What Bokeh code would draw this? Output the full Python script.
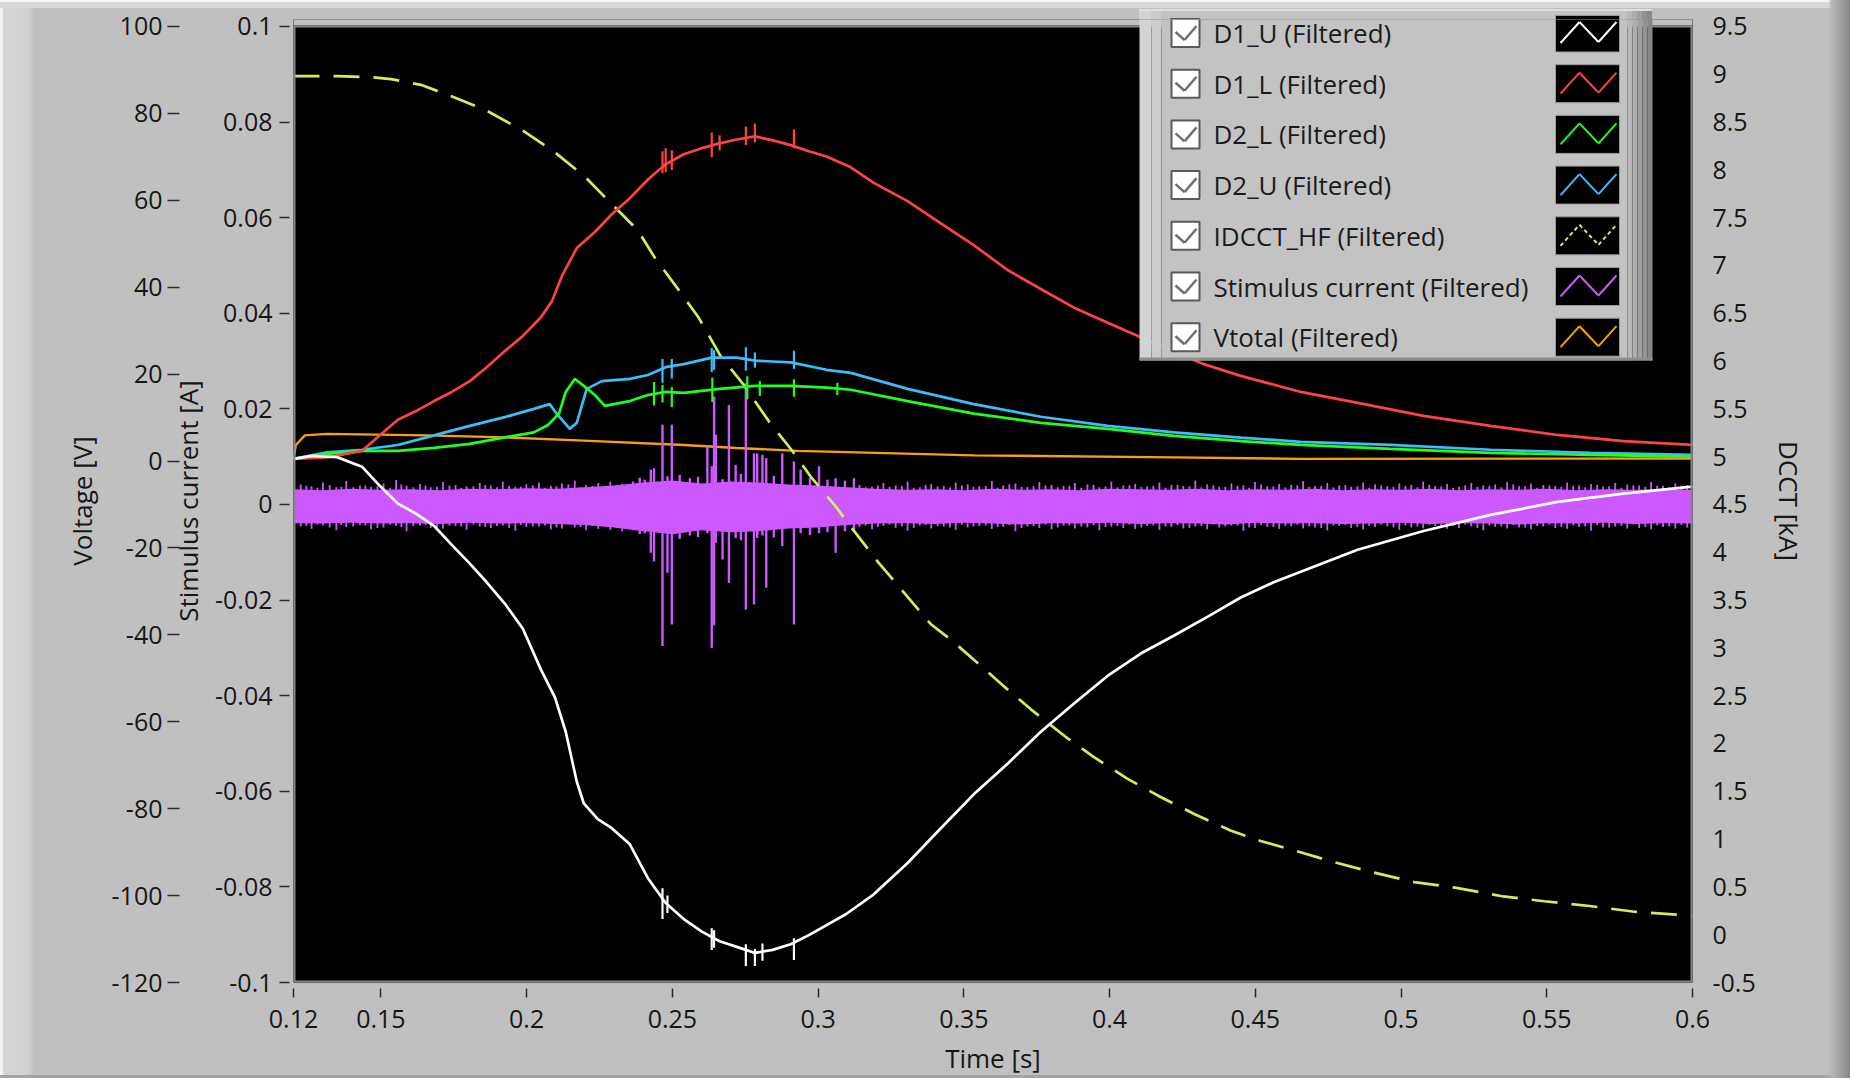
from bokeh.plotting import figure
from bokeh.models import Range1d, LinearAxis, FixedTicker, BoxAnnotation, Label, Arrow
from bokeh.embed import file_html
from bokeh.resources import INLINE

# ---------------- axes: ticks and labels ----------------
time_ticks = [0.12, 0.15, 0.2, 0.25, 0.3, 0.35, 0.4, 0.45, 0.5, 0.55, 0.6]
time_labels = ["0.12", "0.15", "0.2", "0.25", "0.3", "0.35", "0.4", "0.45", "0.5", "0.55", "0.6"]
volt_ticks = [100, 80, 60, 40, 20, 0, -20, -40, -60, -80, -100, -120]
volt_labels = ["100", "80", "60", "40", "20", "0", "-20", "-40", "-60", "-80", "-100", "-120"]
curr_ticks = [0.1, 0.08, 0.06, 0.04, 0.02, 0.0, -0.02, -0.04, -0.06, -0.08, -0.1]
curr_labels = ["0.1", "0.08", "0.06", "0.04", "0.02", "0", "-0.02", "-0.04", "-0.06", "-0.08", "-0.1"]
dcct_ticks = [9.5, 9.0, 8.5, 8.0, 7.5, 7.0, 6.5, 6.0, 5.5, 5.0, 4.5, 4.0, 3.5, 3.0, 2.5, 2.0,
              1.5, 1.0, 0.5, 0.0, -0.5]
dcct_labels = ["9.5", "9", "8.5", "8", "7.5", "7", "6.5", "6", "5.5", "5", "4.5", "4", "3.5", "3",
               "2.5", "2", "1.5", "1", "0.5", "0", "-0.5"]
# scale ends (value at the top and bottom tick)
volt_lo, volt_hi = -120, 100
curr_lo, curr_hi = -0.1, 0.1
dcct_lo, dcct_hi = -0.5, 9.5
time_lo, time_hi = 0.12, 0.6

# ---------------- D1_U (Filtered), voltage [V] ----------------
d1u_t = [0.120, 0.1263, 0.1349, 0.1435, 0.1496, 0.1558, 0.162, 0.1682, 0.1743, 0.1805, 0.1863,
         0.1925, 0.1987, 0.2049, 0.2097, 0.2134, 0.2172, 0.2196, 0.2244, 0.2292, 0.2354, 0.2416,
         0.2477, 0.2539, 0.2601, 0.2662, 0.2721, 0.2783, 0.2844, 0.2906, 0.2968, 0.3029, 0.3095,
         0.3191, 0.3307, 0.3421, 0.3534, 0.3651, 0.3764, 0.3878, 0.3994, 0.4107, 0.422, 0.4337,
         0.445, 0.4563, 0.4656, 0.4851, 0.5077, 0.5307, 0.5537, 0.5763, 0.6]
d1u_v = [0.5, 1.2, 0.9, -1.3, -5.7, -9.8, -12.1, -14.9, -19.3, -23.6, -27.9, -32.8, -38.6, -48.0,
         -54.4, -62.3, -73.8, -78.8, -82.4, -84.5, -88.2, -96.0, -101.7, -105.4, -108.3, -110.5,
         -111.8, -113.2, -112.5, -111.2, -109.1, -106.8, -104.3, -99.7, -92.5, -84.5, -76.7,
         -69.6, -62.3, -55.8, -49.4, -44.3, -40.2, -35.8, -31.4, -27.9, -25.5, -20.4, -16.1,
         -12.4, -9.4, -7.5, -5.9]
d1u_glitch_t = [0.2466, 0.2483, 0.2635, 0.2643, 0.2752, 0.2783, 0.2809, 0.2917]
d1u_glitch_lo = [-105.4, -104.0, -112.5, -112.0, -116.2, -116.2, -115.0, -114.8]
d1u_glitch_hi = [-98.3, -100.0, -107.5, -108.0, -111.2, -112.3, -111.0, -109.8]

# ---------------- D1_L (Filtered), voltage [V] ----------------
d1l_t = [0.12, 0.1315, 0.1435, 0.1558, 0.162, 0.1682, 0.1743, 0.1805, 0.1863, 0.1925, 0.1987,
         0.2049, 0.2087, 0.2121, 0.2172, 0.2234, 0.2292, 0.2354, 0.2416, 0.2477, 0.2539, 0.2601,
         0.2662, 0.2721, 0.2783, 0.2844, 0.2906, 0.2968, 0.3029, 0.3112, 0.3191, 0.3307, 0.3421,
         0.3534, 0.3651, 0.3764, 0.3878, 0.3994, 0.4097, 0.4323, 0.445, 0.4656, 0.4851, 0.5077,
         0.5307, 0.5537, 0.5763, 0.6]
d1l_v = [0.5, 0.85, 2.35, 9.5, 11.5, 13.8, 15.9, 18.4, 21.6, 25.3, 28.8, 33.1, 36.8, 42.6, 49.0,
         52.7, 56.8, 60.5, 64.8, 68.3, 70.6, 72.0, 73.1, 74.0, 74.7, 73.8, 72.7, 71.3, 70.1, 67.6,
         64.0, 59.8, 54.7, 49.7, 43.9, 39.6, 35.3, 31.8, 28.8, 22.3, 19.6, 15.9, 13.4, 10.4, 8.1,
         6.0, 4.6, 3.7]
d1l_glitch_t = [0.2466, 0.2477, 0.2498, 0.2635, 0.2662, 0.2752, 0.2783, 0.2917]
d1l_glitch_lo = [66.2, 66.5, 67.0, 69.9, 71.5, 72.7, 73.3, 72.0]
d1l_glitch_hi = [71.3, 72.0, 71.5, 75.6, 75.0, 77.0, 77.7, 76.3]

# ---------------- D2_L (Filtered), voltage [V] ----------------
d2l_t = [0.12, 0.1315, 0.1435, 0.1558, 0.1682, 0.1805, 0.1925, 0.2025, 0.2073, 0.2111, 0.2134,
         0.2165, 0.2196, 0.2234, 0.2268, 0.2354, 0.2416, 0.2477, 0.2539, 0.2662, 0.2783, 0.2906,
         0.3029, 0.3112, 0.3307, 0.3534, 0.3764, 0.3994, 0.422, 0.445, 0.4656, 0.4964, 0.5307,
         0.565, 0.6]
d2l_v = [0.5, 1.66, 2.35, 2.35, 3.04, 3.96, 5.45, 6.6, 8.3, 10.9, 15.9, 18.9, 17.3, 15.2, 12.7,
         13.8, 15.2, 15.9, 15.7, 16.6, 17.3, 17.3, 16.9, 16.4, 13.8, 10.9, 8.8, 7.4, 5.8, 4.6, 3.7,
         2.8, 1.9, 1.4, 1.0]
d2l_glitch_t = [0.2437, 0.2466, 0.2498, 0.2637, 0.2757, 0.2800, 0.2917, 0.3066]
d2l_glitch_lo = [12.8, 13.5, 12.4, 13.6, 14.2, 15.0, 14.8, 15.2]
d2l_glitch_hi = [18.2, 17.5, 17.0, 19.2, 19.5, 18.4, 18.8, 18.0]

# ---------------- D2_U (Filtered), voltage [V] ----------------
d2u_t = [0.12, 0.1315, 0.1435, 0.1558, 0.1682, 0.1805, 0.1925, 0.2025, 0.2079, 0.2103, 0.2148,
         0.2172, 0.2206, 0.2258, 0.2354, 0.2416, 0.2477, 0.2539, 0.2635, 0.2721, 0.2783, 0.2906,
         0.3029, 0.3112, 0.3307, 0.3534, 0.3764, 0.3994, 0.422, 0.445, 0.4656, 0.4964, 0.5307,
         0.565, 0.6]
d2u_v = [0.5, 2.0, 2.6, 3.7, 5.9, 8.1, 10.1, 12.0, 13.1, 10.9, 7.4, 8.8, 16.6, 18.4, 18.9, 19.8,
         21.6, 22.3, 23.8, 23.8, 23.1, 22.7, 21.0, 20.3, 16.6, 13.1, 10.2, 8.1, 6.6, 5.4, 4.4, 3.7,
         2.6, 1.9, 1.4]
d2u_glitch_t = [0.2466, 0.2498, 0.2635, 0.2643, 0.2752, 0.2783, 0.2917]
d2u_glitch_lo = [18.0, 19.0, 20.5, 21.0, 20.8, 21.5, 21.2]
d2u_glitch_hi = [23.5, 23.5, 26.0, 25.5, 26.2, 25.0, 25.4]

# ---------------- IDCCT_HF (Filtered), DCCT [kA] ----------------
idcct_t = [0.12, 0.135, 0.147, 0.1534, 0.1637, 0.1733, 0.1863, 0.1987, 0.209, 0.2196, 0.2296,
           0.2381, 0.244, 0.2525, 0.2591, 0.2666, 0.2745, 0.2831, 0.2909, 0.2975, 0.306, 0.3119,
           0.3205, 0.3283, 0.3386, 0.3458, 0.3544, 0.3637, 0.3729, 0.3849, 0.3945, 0.4062,
           0.4175, 0.4292, 0.4415, 0.4518, 0.4635, 0.4769, 0.4906, 0.5046, 0.519, 0.5351, 0.5492,
           0.5647, 0.5801, 0.5945, 0.6]
idcct_ka = [8.98, 8.98, 8.97, 8.95, 8.89, 8.78, 8.62, 8.41, 8.2, 7.94, 7.63, 7.37, 7.08, 6.73,
            6.45, 6.05, 5.75, 5.37, 5.07, 4.79, 4.48, 4.24, 3.9, 3.62, 3.25, 3.08, 2.85, 2.6,
            2.36, 2.07, 1.86, 1.63, 1.44, 1.26, 1.09, 0.98, 0.88, 0.76, 0.65, 0.55, 0.49, 0.4,
            0.35, 0.3, 0.24, 0.21, 0.2]

# ---------------- Vtotal (Filtered), voltage [V] ----------------
vtot_t = [0.12, 0.1208, 0.1239, 0.1315, 0.1658, 0.1925, 0.2196, 0.2539, 0.2721, 0.293, 0.3534,
          0.422, 0.4656, 0.6]
vtot_v = [0.5, 3.7, 5.9, 6.25, 5.9, 5.45, 4.7, 3.7, 3.0, 2.35, 1.3, 0.85, 0.5, 0.6]

# ---------------- Stimulus current (Filtered) [mA] ----------------
# noise band envelope, every 10 ms
stim_t = [0.12, 0.13, 0.14, 0.15, 0.16, 0.17, 0.18, 0.19, 0.2, 0.21, 0.22, 0.23, 0.24, 0.25,
          0.26, 0.27, 0.28, 0.29, 0.3, 0.31, 0.32, 0.33, 0.34, 0.35, 0.36, 0.37, 0.38, 0.39, 0.4,
          0.41, 0.42, 0.43, 0.44, 0.45, 0.46, 0.47, 0.48, 0.49, 0.5, 0.51, 0.52, 0.53, 0.54, 0.55,
          0.56, 0.57, 0.58, 0.59, 0.6]
stim_upper_ma = [3.2, 3.0, 3.3, 3.1, 3.2, 3.0, 3.3, 3.2, 3.4, 3.3, 3.6, 4.0, 4.6, 5.0, 4.4, 4.8,
                 4.6, 4.2, 4.0, 3.6, 3.3, 3.1, 3.2, 3.0, 3.3, 3.1, 3.2, 3.0, 3.3, 3.2, 3.1, 3.3,
                 3.0, 3.2, 3.1, 3.3, 3.0, 3.2, 3.1, 3.3, 3.0, 3.2, 3.1, 3.3, 3.0, 3.2, 3.1, 3.2,
                 3.1]
stim_lower_ma = [-3.9, -4.0, -3.8, -4.0, -3.9, -4.1, -3.8, -4.0, -3.9, -4.1, -4.3, -4.8, -5.6,
                 -6.2, -5.4, -5.8, -5.6, -5.0, -4.8, -4.3, -4.0, -3.9, -4.1, -3.8, -4.0, -4.2,
                 -3.9, -4.0, -3.8, -4.1, -3.9, -4.0, -4.2, -3.8, -4.0, -3.9, -4.1, -4.0, -3.8,
                 -4.1, -3.9, -4.0, -4.2, -3.9, -4.0, -3.8, -4.1, -3.9, -4.0]
# ripple on the band edges (coarse)
ripple_t = [0.1225, 0.1262, 0.1301, 0.1347, 0.1381, 0.1428, 0.1466, 0.1509, 0.1552, 0.1588,
            0.1634, 0.1671, 0.1713, 0.1756, 0.1794, 0.1839, 0.1877, 0.1918, 0.1961, 0.1999,
            0.2042, 0.2083, 0.2121, 0.2165, 0.2204, 0.2246, 0.2287, 0.2328,
            0.3142, 0.3185, 0.3224, 0.3266, 0.3307, 0.3349, 0.3388, 0.3431, 0.3472, 0.3513,
            0.3553, 0.3596, 0.3635, 0.3677, 0.3718, 0.3759, 0.3801, 0.3842, 0.3881, 0.3924,
            0.3965, 0.4006, 0.4047, 0.4088, 0.4129, 0.4171, 0.4212, 0.4253, 0.4294, 0.4335,
            0.4376, 0.4418, 0.4459, 0.4499, 0.4541, 0.4582, 0.4623, 0.4664, 0.4705, 0.4747,
            0.4788, 0.4829, 0.4870, 0.4911, 0.4953, 0.4994, 0.5035, 0.5076, 0.5117, 0.5158,
            0.5199, 0.5241, 0.5282, 0.5323, 0.5364, 0.5405, 0.5446, 0.5488, 0.5529, 0.5570,
            0.5611, 0.5652, 0.5693, 0.5735, 0.5776, 0.5817, 0.5858, 0.5899, 0.5941, 0.5982]
ripple_hi_ma = [4.2, 3.8, 4.6, 3.6, 4.9, 4.0, 3.7, 4.4, 5.1, 3.9,
                4.3, 3.6, 4.7, 4.1, 3.8, 4.5, 4.0, 4.8, 3.7, 4.2,
                4.6, 3.9, 4.4, 5.0, 4.1, 4.5, 4.8, 4.3,
                4.1, 3.7, 4.5, 4.0, 4.8, 3.6, 4.3, 3.9, 4.6, 4.2,
                3.8, 4.9, 4.0, 4.4, 3.7, 4.7, 4.1, 3.9, 4.5, 4.2,
                3.6, 4.8, 4.0, 4.3, 3.8, 4.6, 4.1, 3.9, 5.0, 4.2,
                3.7, 4.4, 4.0, 4.7, 3.8, 4.3, 4.1, 4.9, 3.9, 4.5,
                4.0, 3.7, 4.6, 4.2, 3.8, 4.4, 4.1, 4.8, 3.9, 4.3,
                3.7, 4.5, 4.0, 4.2, 4.7, 3.8, 4.4, 4.1, 3.9, 4.6,
                4.0, 4.3, 3.8, 4.5, 4.2, 4.0, 4.7, 3.9, 4.4, 4.1]
ripple_lo_ma = [-4.6, -5.1, -4.4, -5.4, -4.7, -4.3, -5.2, -4.8, -4.5, -5.6,
                -4.4, -4.9, -5.0, -4.5, -5.3, -4.6, -4.9, -4.4, -5.5, -4.7,
                -4.6, -5.2, -5.0, -4.8, -5.4, -5.1, -5.3, -5.6,
                -4.7, -5.2, -4.5, -4.9, -5.5, -4.4, -5.0, -4.6, -5.3, -4.8,
                -4.5, -5.1, -4.7, -5.6, -4.6, -4.9, -5.2, -4.4, -5.0, -4.8,
                -5.4, -4.6, -4.9, -5.1, -4.5, -5.3, -4.7, -5.0, -4.6, -5.2,
                -4.8, -4.4, -5.5, -4.9, -4.7, -5.1, -4.6, -5.0, -4.8, -5.4,
                -4.5, -4.9, -5.2, -4.7, -4.6, -5.3, -4.8, -5.0, -4.5, -5.1,
                -4.9, -4.6, -5.4, -4.7, -5.0, -4.8, -5.2, -4.6, -4.9, -5.1,
                -4.7, -5.5, -4.8, -4.6, -5.0, -4.9, -5.2, -4.7, -5.0, -4.8]
# ripple on the band edges (fine)
fine_t = [0.1244, 0.1282, 0.1324, 0.1364, 0.1405, 0.1447, 0.1488, 0.1531, 0.1570, 0.1611,
          0.1653, 0.1692, 0.1735, 0.1775, 0.1817, 0.1858, 0.1898, 0.1940, 0.1980, 0.2021,
          0.2063, 0.2102, 0.2143, 0.2185, 0.2225, 0.2267, 0.2308, 0.2348,
          0.3163, 0.3205, 0.3245, 0.3287, 0.3328, 0.3369, 0.3410, 0.3452, 0.3493, 0.3533,
          0.3575, 0.3616, 0.3656, 0.3698, 0.3739, 0.3780, 0.3822, 0.3862, 0.3903, 0.3945,
          0.3986, 0.4027, 0.4068, 0.4109, 0.4150, 0.4192, 0.4233, 0.4274, 0.4315, 0.4356,
          0.4397, 0.4439, 0.4479, 0.4520, 0.4562, 0.4603, 0.4644, 0.4685, 0.4726, 0.4768,
          0.4809, 0.4850, 0.4891, 0.4932, 0.4974, 0.5015, 0.5056, 0.5097, 0.5138, 0.5179,
          0.5220, 0.5262, 0.5303, 0.5344, 0.5385, 0.5426, 0.5467, 0.5509, 0.5550, 0.5591,
          0.5632, 0.5673, 0.5714, 0.5756, 0.5797, 0.5838, 0.5879, 0.5920, 0.5962]
fine_hi_ma = [3.9, 3.5, 4.1, 3.7, 3.6, 4.0, 3.8, 3.5, 4.2, 3.6,
              3.9, 3.7, 4.0, 3.5, 3.8, 4.1, 3.6, 3.9, 3.7, 4.0,
              3.5, 3.8, 4.2, 3.6, 3.9, 3.7, 4.0, 3.8,
              3.6, 4.0, 3.7, 3.9, 3.5, 4.1, 3.8, 3.6, 4.0, 3.7,
              3.9, 3.5, 4.2, 3.7, 3.8, 4.0, 3.6, 3.9, 3.5, 4.1,
              3.8, 3.6, 4.0, 3.7, 3.9, 3.5, 4.1, 3.8, 3.6, 4.0,
              3.7, 3.9, 3.5, 4.2, 3.8, 3.6, 4.0, 3.7, 3.9, 3.6,
              4.1, 3.8, 3.5, 4.0, 3.7, 3.9, 3.6, 4.1, 3.8, 3.5,
              4.0, 3.7, 3.9, 3.6, 4.2, 3.8, 3.5, 4.0, 3.7, 3.9,
              3.6, 4.1, 3.8, 3.5, 4.0, 3.7, 3.9, 3.6, 4.0]
fine_lo_ma = [-4.5, -4.2, -4.8, -4.3, -4.6, -4.4, -4.9, -4.2, -4.7, -4.5,
              -4.3, -4.8, -4.4, -4.6, -4.2, -4.7, -4.5, -4.9, -4.3, -4.6,
              -4.4, -4.8, -4.2, -4.7, -4.5, -4.3, -4.9, -4.6,
              -4.4, -4.7, -4.2, -4.6, -4.9, -4.3, -4.5, -4.8, -4.2, -4.6,
              -4.4, -4.7, -4.3, -4.9, -4.5, -4.2, -4.8, -4.4, -4.6, -4.3,
              -4.7, -4.5, -4.2, -4.8, -4.4, -4.6, -4.3, -4.9, -4.5, -4.2,
              -4.6, -4.4, -4.8, -4.3, -4.7, -4.5, -4.2, -4.6, -4.9, -4.4,
              -4.3, -4.7, -4.5, -4.2, -4.8, -4.4, -4.6, -4.3, -4.7, -4.5,
              -4.2, -4.9, -4.4, -4.6, -4.3, -4.8, -4.5, -4.2, -4.7, -4.4,
              -4.6, -4.3, -4.8, -4.5, -4.2, -4.7, -4.4, -4.6, -4.3]
# discharge bursts
burst_t = [0.2365, 0.2388, 0.2405, 0.2426, 0.2437, 0.2466, 0.2483, 0.2498, 0.2525, 0.256,
           0.2588, 0.262, 0.2635, 0.2643, 0.2649, 0.2672, 0.2694, 0.2717, 0.2735, 0.2752,
           0.278, 0.2791, 0.2809, 0.2822, 0.2848, 0.2877, 0.2917, 0.294, 0.2972, 0.3003,
           0.3032, 0.306, 0.3092, 0.3123]
burst_lo_ma = [-5.4, -6.2, -6.0, -10.1, -11.9, -29.6, -14.3, -25.1, -7.2, -6.5,
               -6.8, -6.0, -30.0, -25.3, -8.0, -11.5, -16.4, -7.0, -7.5, -22.0,
               -20.9, -7.0, -6.5, -17.4, -6.9, -8.7, -25.1, -6.0, -6.4, -6.0,
               -5.8, -10.1, -5.6, -5.5]
burst_hi_ma = [4.8, 5.6, 5.2, 7.3, 7.6, 16.7, 5.9, 16.7, 6.2, 5.5,
               5.8, 12.1, 8.0, 22.6, 14.6, 5.3, 20.8, 8.3, 6.4, 25.4,
               10.7, 10.7, 10.4, 9.7, 6.0, 10.7, 9.0, 7.3, 5.6, 8.0,
               5.2, 5.5, 5.0, 5.5]

# ---------------- legend entries ----------------
legend_names = ["D1_U (Filtered)", "D1_L (Filtered)", "D2_L (Filtered)", "D2_U (Filtered)",
                "IDCCT_HF (Filtered)", "Stimulus current (Filtered)", "Vtotal (Filtered)"]
C_D1U, C_D1L, C_D2L, C_D2U = "#ffffff", "#ff4343", "#1eff1e", "#3cbcf8"
C_IDCCT, C_STIM, C_VTOT = "#cdf05a", "#cc58ff", "#f5a00c"
legend_colors = [C_D1U, C_D1L, C_D2L, C_D2U, C_IDCCT, C_STIM, C_VTOT]
legend_dashes = ["solid", "solid", "solid", "solid", "4 3", "solid", "solid"]

# ---------------- geometry (pixels) ----------------
W, H = 1850, 1078
BL, BR, BB = 293, 158, 95
TOP_TICK_Y = 26      # pixel row of the top tick of every vertical scale
FRAME_T = 19         # plot canvas starts a little higher so the first legend row fits inside
FRAME_B = H - BB
FONT = "Open Sans"
PANEL = "#c0c0c0"
INK = "#161616"

# legend panel box, its rows, check boxes and plot swatches
LX0, LY0, LX1, LY1 = 1139, 9, 1652, 361
ROW0, ROW_STEP = 33.5, 50.7
CB_X0, CB_X1, CB_HALF = 1171, 1199, 14
SW_X0, SW_X1, SW_HALF = 1555, 1619, 19
LEGEND_SHADES = [(0, 12, "#d3d3d3"), (12, 22, "#cbcbcb"), (22, 488, "#c3c3c3"),
                 (488, 493, "#b9b9b9"), (493, 498, "#adadad"), (498, 503, "#a0a0a0"),
                 (503, 508, "#939393"), (508, 513, "#888888")]


def stretch(lo, hi):
    """Range whose [lo, hi] spans TOP_TICK_Y..FRAME_B while the frame starts at FRAME_T."""
    per_px = (hi - lo) / (FRAME_B - TOP_TICK_Y)
    return Range1d(lo, hi + (TOP_TICK_Y - FRAME_T) * per_px)


# ---------------- page background: window chrome + legend part above the canvas frame ----------------
css_layers = []


def css_rect(color, x0, y0, x1, y1):
    css_layers.append((f"linear-gradient({color}, {color})", f"{x0}px {y0}px",
                       f"{x1 - x0}px {y1 - y0}px"))


cy0 = ROW0
css_rect("#000000", SW_X0 + 1, cy0 - SW_HALF + 1, SW_X1, FRAME_T)
css_rect("#9a9a9a", SW_X0, cy0 - SW_HALF, SW_X1 + 1, FRAME_T)
css_rect("#5a5a5a", CB_X0 - 1, FRAME_T - 1, CB_X1 + 1, FRAME_T)
css_rect("#dedede", LX0, LY0, LX1, LY0 + 2)
stops = ", ".join(f"{c} {a}px, {c} {b}px" for a, b, c in LEGEND_SHADES)
css_layers.append((f"linear-gradient(to right, {stops})", f"{LX0}px {LY0}px",
                   f"{LX1 - LX0}px {FRAME_T - LY0}px"))
for img in [
        "linear-gradient(to left, #888888 0px, #9d9d9d 8px, #b5b5b5 18px, rgba(192,192,192,0) 22px)",
        "linear-gradient(to bottom, #f4f4f4 0px, #f4f4f4 2px, #d8d8d8 2px, #d8d8d8 8px, "
        "rgba(192,192,192,0) 8px)",
        "linear-gradient(to top, #a4a4a4 0px, #a4a4a4 3px, rgba(192,192,192,0) 3px)",
        "linear-gradient(to right, #f4f4f4 0px, #f4f4f4 3px, #d6d6d6 3px, #d1d1d1 28px, "
        "#c0c0c0 34px, #c0c0c0 100%)"]:
    css_layers.append((img, "0px 0px", "100% 100%"))

page_style = {
    "background-color": PANEL,
    "background-image": ", ".join(l[0] for l in css_layers),
    "background-position": ", ".join(l[1] for l in css_layers),
    "background-size": ", ".join(l[2] for l in css_layers),
    "background-repeat": "no-repeat",
}

# ---------------- figure ----------------
p = figure(width=W, height=H, title=None, output_backend="svg", toolbar_location=None,
           x_range=Range1d(time_lo, time_hi), y_range=stretch(curr_lo, curr_hi),
           min_border_left=BL, min_border_right=BR, min_border_top=FRAME_T,
           min_border_bottom=BB, background_fill_color="black",
           border_fill_color=PANEL, border_fill_alpha=0.0,
           outline_line_color=None, styles=page_style)
p.extra_y_ranges = {"volt": stretch(volt_lo, volt_hi), "dcct": stretch(dcct_lo, dcct_hi)}
p.grid.visible = False


def style_axis(ax, ticks, labels):
    ax.ticker = FixedTicker(ticks=ticks)
    ax.major_label_overrides = dict(zip(ticks, labels))
    ax.minor_tick_line_color = None
    ax.axis_line_color = None
    ax.major_tick_line_color = "#2a2a2a"
    ax.major_tick_line_width = 1.5
    ax.major_label_text_font = FONT
    ax.major_label_text_font_size = "25px"
    ax.major_label_text_color = INK
    ax.axis_label_text_font = FONT
    ax.axis_label_text_font_size = "26px"
    ax.axis_label_text_font_style = "normal"
    ax.axis_label_text_color = INK


# inner left axis: stimulus current
cax = p.yaxis[0]
style_axis(cax, curr_ticks, curr_labels)
cax.axis_label = "Stimulus current [A]"
cax.major_tick_in = -4
cax.major_tick_out = 14
cax.major_label_standoff = 7
cax.axis_label_standoff = 6

# outer left axis: voltage
vax = LinearAxis(y_range_name="volt", axis_label="Voltage [V]")
style_axis(vax, volt_ticks, volt_labels)
vax.major_tick_in = 12
vax.major_tick_out = 0
vax.major_label_standoff = 5
vax.axis_label_standoff = 9
p.add_layout(vax, "left")

# right axis: DCCT
dax = LinearAxis(y_range_name="dcct", axis_label="DCCT [kA]")
style_axis(dax, dcct_ticks, dcct_labels)
dax.major_tick_in = 0
dax.major_tick_out = 0
dax.major_tick_line_color = None
dax.major_label_standoff = 20
dax.axis_label_standoff = 12
p.add_layout(dax, "right")

# time axis
tax = p.xaxis[0]
style_axis(tax, time_ticks, time_labels)
tax.axis_label = "Time [s]"
tax.major_tick_in = -6
tax.major_tick_out = 15
tax.major_label_standoff = 12
tax.axis_label_standoff = 9

LW = 2.7
ma = lambda vals: [v / 1000 for v in vals]

# traces, bottom to top
p.line(vtot_t, vtot_v, y_range_name="volt", line_color=C_VTOT, line_width=2.4)

p.varea(x=stim_t, y1=ma(stim_lower_ma), y2=ma(stim_upper_ma), fill_color=C_STIM, fill_alpha=1.0)
p.segment(x0=ripple_t, x1=ripple_t, y0=ma(ripple_lo_ma), y1=ma(ripple_hi_ma),
          line_color=C_STIM, line_width=1.8)
p.segment(x0=fine_t, x1=fine_t, y0=ma(fine_lo_ma), y1=ma(fine_hi_ma),
          line_color=C_STIM, line_width=1.8)
p.segment(x0=burst_t, x1=burst_t, y0=ma(burst_lo_ma), y1=ma(burst_hi_ma),
          line_color=C_STIM, line_width=2.4)

p.line(idcct_t, idcct_ka, y_range_name="dcct", line_color=C_IDCCT, line_width=LW,
       line_dash="26 14")

for t, v, gt, glo, ghi, col in [
        (d2u_t, d2u_v, d2u_glitch_t, d2u_glitch_lo, d2u_glitch_hi, C_D2U),
        (d2l_t, d2l_v, d2l_glitch_t, d2l_glitch_lo, d2l_glitch_hi, C_D2L),
        (d1l_t, d1l_v, d1l_glitch_t, d1l_glitch_lo, d1l_glitch_hi, C_D1L),
        (d1u_t, d1u_v, d1u_glitch_t, d1u_glitch_lo, d1u_glitch_hi, C_D1U)]:
    p.line(t, v, y_range_name="volt", line_color=col, line_width=LW)
    p.segment(x0=gt, x1=gt, y0=glo, y1=ghi, y_range_name="volt", line_color=col, line_width=2.2)


# ---------------- overlays in pixel positions (inside the canvas frame) ----------------
def sx(x):
    return x - BL


def sy(y):
    return FRAME_B - y


def box(x0, y0, x1, y1, fill, line=None, lw=0, fill_alpha=1.0):
    p.add_layout(BoxAnnotation(left=sx(x0), right=sx(x1), top=sy(y0), bottom=sy(y1),
                               left_units="screen", right_units="screen",
                               top_units="screen", bottom_units="screen",
                               fill_color=fill, fill_alpha=fill_alpha,
                               line_color=line, line_alpha=1.0, line_width=lw))


def seg(x0, y0, x1, y1, color, lw, dash="solid"):
    p.add_layout(Arrow(end=None, x_start=sx(x0), y_start=sy(y0), x_end=sx(x1), y_end=sy(y1),
                       start_units="screen", end_units="screen",
                       line_color=color, line_width=lw, line_dash=dash))


# panel strip above the plot area, then the plot outline
box(BL, FRAME_T, W - BR, TOP_TICK_Y, PANEL)
box(BL + 1, TOP_TICK_Y + 1, W - BR - 1, FRAME_B - 1, "#000000", "#878787", 2, fill_alpha=0.0)

# legend panel
for a, b, shade in LEGEND_SHADES:
    box(LX0 + a, LY0, LX0 + b, LY1, shade)
box(LX0, LY0, LX1, LY0 + 2, "#dedede")
box(LX0, LY1 - 3, LX1, LY1, "#8e8e8e")

for i, (name, col, dash) in enumerate(zip(legend_names, legend_colors, legend_dashes)):
    cy = ROW0 + ROW_STEP * i
    # check box
    box(CB_X0, cy - CB_HALF, CB_X1, cy + CB_HALF, "#ffffff", "#5a5a5a", 2)
    seg(1175, cy - 1, 1184, cy + 7, "#707070", 2.5)
    seg(1184, cy + 7, 1196, cy - 7, "#707070", 2.5)
    # name
    p.add_layout(Label(x=sx(1213), y=sy(cy), x_units="screen", y_units="screen", text=name,
                       text_font=FONT, text_font_size="26px", text_color="#1b1b1b",
                       text_baseline="middle"))
    # plot swatch
    box(SW_X0, cy - SW_HALF, SW_X1, cy + SW_HALF, "#000000", "#9a9a9a", 1)
    pts = [(1560, cy + 10), (1579, cy - 11), (1598, cy + 9), (1616, cy - 11)]
    for (xa, ya), (xb, yb) in zip(pts[:-1], pts[1:]):
        seg(xa, ya, xb, yb, col, 2, dash)

open("out.html", "w").write(file_html(p, INLINE))
